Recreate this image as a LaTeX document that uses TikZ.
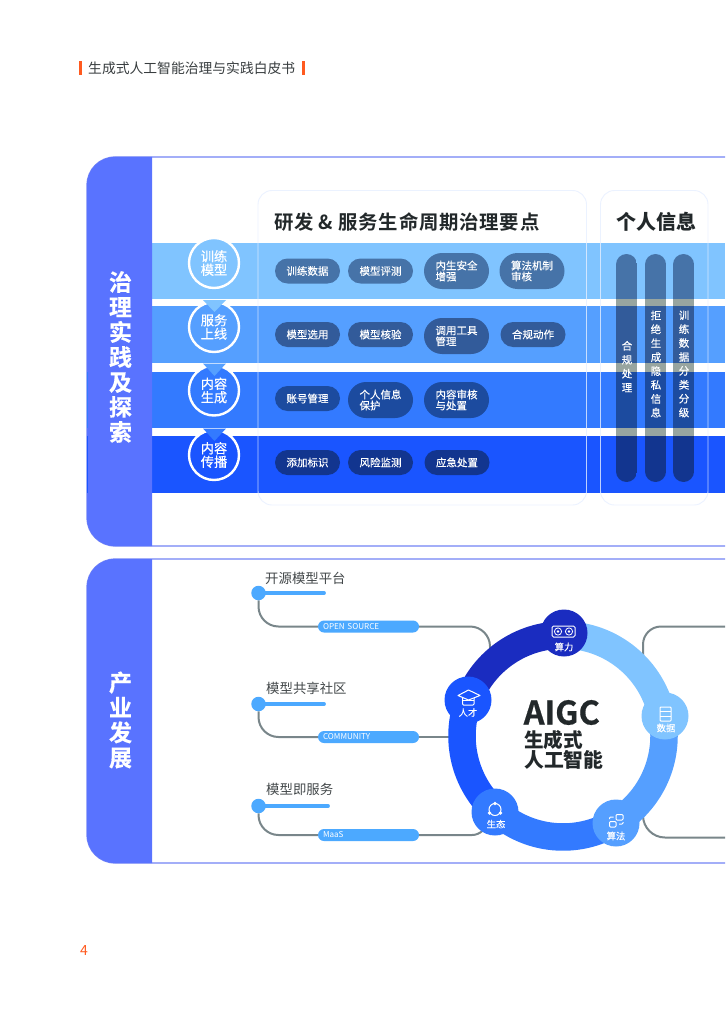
\documentclass[tikz,border=0pt]{standalone}
\usepackage{fontspec}
\usetikzlibrary{shapes.misc}
\setmainfont{Noto Sans CJK SC}
\newfontfamily\cjkm[FakeBold=0.3]{Noto Sans CJK SC}
\newfontfamily\cjks[FakeBold=0.55]{Noto Sans CJK SC}
\newfontfamily\cjkt[LetterSpace=4]{Noto Sans CJK SC Bold}
\newfontfamily\cjka[FakeBold=0.6]{Noto Sans CJK SC Bold}
\newcommand{\fs}[2]{\fontsize{#1}{#2}\selectfont}
\pgfdeclarelayer{toplayer}
\pgfsetlayers{main,toplayer}
\definecolor{bandA}{RGB}{128,196,255}
\definecolor{bandB}{RGB}{85,159,255}
\definecolor{bandC}{RGB}{51,122,255}
\definecolor{bandD}{RGB}{26,85,255}
\definecolor{ringdark}{RGB}{26,44,192}
\definecolor{sidebar}{RGB}{89,115,255}
\definecolor{frameblue}{RGB}{115,132,245}
\definecolor{pillA}{RGB}{70,115,168}
\definecolor{pillB}{RGB}{50,91,154}
\definecolor{pillC}{RGB}{28,75,159}
\definecolor{pillD}{RGB}{18,53,143}
\definecolor{pillgap}{RGB}{152,165,160}
\definecolor{connGrey}{RGB}{121,134,138}
\definecolor{accent}{RGB}{76,169,255}
\definecolor{headorange}{RGB}{255,90,31}
\definecolor{inkdark}{RGB}{34,40,42}
\tikzset{
  x=1pt,y=-1pt,
  pillbox/.style={rounded rectangle,inner sep=0pt,minimum width=65pt,minimum height=25pt,text=white,font=\cjkm\fs{10.5}{11},align=left},
  tallpill/.style={pillbox,minimum height=36pt},
  stagecircle/.style={circle,draw=white,line width=2.4pt,minimum size=50pt,inner sep=0pt,text=white,font=\cjks\fs{13.2}{13.5},align=center},
  glass/.style={draw=white!88!bandC,line width=0.9pt,rounded corners=14pt,opacity=0.8},
  frameline/.style={draw=frameblue,line width=1.2pt},
  sidetext/.style={text=white,font=\cjka\fs{23}{25},align=center},
  conn/.style={draw=connGrey,line width=2pt},
  tagpill/.style={rounded rectangle,fill=accent,inner sep=0pt,minimum width=101pt,minimum height=12pt,text width=91pt,text=white,font=\fs{8.1}{8.5},align=left},
  nodedot/.style={circle,fill=accent,minimum size=14.5pt,inner sep=0pt},
  toplabel/.style={anchor=west,text=inkdark!85,font=\fs{13.4}{14},inner sep=0pt},
  ringnode/.style={circle,minimum size=47pt,inner sep=0pt},
  ringlabel/.style={text=white,font=\cjkm\fs{9.3}{10},inner sep=0pt},
  iconline/.style={draw=white,line width=1pt},
  bartext/.style={text=white,font=\cjkm\fs{10.5}{13.9},align=center,inner sep=0pt}
}
\begin{document}
\begin{tikzpicture}
\useasboundingbox (0,0) rectangle (725,1024);
\fill[white] (0,0) rectangle (725,1024);
% header
\fill[headorange] (79,61) rectangle (82,75);
\fill[headorange] (301.5,61) rectangle (304.5,75);
\node[anchor=west,inner sep=0pt,text=inkdark!90,font=\fs{13.8}{14}] (header) at (88,68.5) {生成式人工智能治理与实践白皮书};
\node[anchor=west,inner sep=0pt,text=headorange,font=\fs{14}{14}] (pageno) at (80,950) {4};
% bands
\fill[bandA] (152,243) rectangle (725,299);
\fill[bandB] (152,306) rectangle (725,363);
\fill[bandC] (152,371.5) rectangle (725,428);
\fill[bandD] (152,436) rectangle (725,493);
% frames
\draw[frameline] (725,157) -- (115,157) arc (-90:-180:28) -- (87,518) arc (180:90:28) -- (725,546);
\draw[frameline] (725,559) -- (115,559) arc (-90:-180:28) -- (87,835) arc (180:90:28) -- (725,863);
\fill[sidebar] (152,157) -- (115,157) arc (-90:-180:28) -- (87,518) arc (180:90:28) -- (152,546) -- cycle;
\fill[sidebar] (152,559) -- (115,559) arc (-90:-180:28) -- (87,835) arc (180:90:28) -- (152,863) -- cycle;
\fill[bandD] (87,436) rectangle (88,493);
\fill[bandC] (87,371.5) rectangle (87.7,428);
\node[sidetext] (sideA) at (120.5,357) {治\\理\\实\\践\\及\\探\\索};
\node[sidetext] (sideB) at (120.5,720) {产\\业\\发\\展};
% glass panels
\draw[glass] (258,190.5) rectangle (586.5,505);
\draw[glass] (600.5,190.5) rectangle (708,505);
\node[anchor=west,inner sep=0pt,text=inkdark,font=\cjkt\fs{19.4}{20}] (titleA) at (274,222) {研发 \& 服务生命周期治理要点};
\node[anchor=west,inner sep=0pt,text=inkdark,font=\bfseries\fs{20}{20}] (titleB) at (616,222) {个人信息};
% stages
\node[stagecircle,fill=bandA] (s1) at (214,263) {训练\\模型};
\node[stagecircle,fill=bandB] (s2) at (214,327) {服务\\上线};
\node[stagecircle,fill=bandC] (s3) at (214,390.5) {内容\\生成};
\node[stagecircle,fill=bandD] (s4) at (214,455) {内容\\传播};
\fill[bandA] (203,300) -- (226,300) -- (214.5,312) -- cycle;
\fill[bandB] (203,363.5) -- (226,363.5) -- (214.5,376) -- cycle;
\fill[bandC] (203,428.5) -- (226,428.5) -- (214.5,441) -- cycle;
% pills row 1
\node[pillbox,fill=pillA] (p11) at (307.5,271) {训练数据};
\node[pillbox,fill=pillA] (p12) at (380.5,271) {模型评测};
\node[tallpill,fill=pillA] (p13) at (456.5,271) {内生安全\\增强};
\node[tallpill,fill=pillA] (p14) at (532,271) {算法机制\\审核};
% row 2
\node[pillbox,fill=pillB] (p21) at (307.5,334.5) {模型选用};
\node[pillbox,fill=pillB] (p22) at (380.5,334.5) {模型核验};
\node[tallpill,fill=pillB] (p23) at (456.5,336) {调用工具\\管理};
\node[pillbox,fill=pillB] (p24) at (533,334.5) {合规动作};
% row 3
\node[pillbox,fill=pillC] (p31) at (307.5,398.5) {账号管理};
\node[tallpill,fill=pillC] (p32) at (380.5,400) {个人信息\\保护};
\node[tallpill,fill=pillC] (p33) at (456.5,400) {内容审核\\与处置};
% row 4
\node[pillbox,fill=pillD] (p41) at (307.5,462.5) {添加标识};
\node[pillbox,fill=pillD] (p42) at (380.5,462.5) {风险监测};
\node[pillbox,fill=pillD] (p43) at (457,462.5) {应急处置};
% vertical bars
\foreach \bx in {616,645,673}{
  \begin{scope}
    \clip[rounded corners=10.5pt] (\bx,254) rectangle ++(21,228);
    \fill[pillA] (\bx,254) rectangle ++(21,45);
    \fill[pillgap] (\bx,299) rectangle ++(21,7);
    \fill[pillB] (\bx,306) rectangle ++(21,57);
    \fill[pillgap] (\bx,363) rectangle ++(21,8.5);
    \fill[pillC] (\bx,371.5) rectangle ++(21,56.5);
    \fill[pillgap] (\bx,428) rectangle ++(21,8);
    \fill[pillD] (\bx,436) rectangle ++(21,46);
  \end{scope}
}
\node[bartext] (b1) at (627,366.5) {合\\规\\处\\理};
\node[bartext] (b2) at (656,364) {拒\\绝\\生\\成\\隐\\私\\信\\息};
\node[bartext] (b3) at (684,364) {训\\练\\数\\据\\分\\类\\分\\级};
% lower left
\node[toplabel] (l1) at (265,578) {开源模型平台};
\node[toplabel] (l2) at (266,688.5) {模型共享社区};
\node[toplabel] (l3) at (266,789) {模型即服务};
\begin{pgfonlayer}{toplayer}
\node[nodedot] (d1) at (258.5,593) {};
\node[nodedot] (d2) at (258.5,704) {};
\node[nodedot] (d3) at (258.5,806) {};
\node[tagpill] (t1) at (368.5,626.5) {OPEN SOURCE};
\node[tagpill] (t2) at (368.5,737) {COMMUNITY};
\node[tagpill] (t3) at (368.5,835) {MaaS};
\end{pgfonlayer}
\coordinate (e1) at (324,593);
\coordinate (e2) at (324,704);
\coordinate (e3) at (328,806);
\coordinate (ra) at (490,650);
\coordinate (rb) at (455,737);
\coordinate (rc) at (487,822);
\coordinate (rd) at (725,626.5);
\coordinate (re) at (643,660);
\coordinate (rf) at (725,837.5);
\coordinate (rg) at (643,800);
\draw[accent,line width=3.8pt,line cap=round] (d1.center) -- (e1);
\draw[accent,line width=3.8pt,line cap=round] (d2.center) -- (e2);
\draw[accent,line width=3.8pt,line cap=round] (d3.center) -- (e3);
\draw[conn,rounded corners=20pt] (d1.south) |- (t1.west);
\draw[conn,rounded corners=20pt] (d2.south) |- (t2.west);
\draw[conn,rounded corners=20pt] (d3.south) |- (t3.west);
\draw[conn,rounded corners=20pt] (t1.east) -| (ra);
\draw[conn] (t2.east) -- (rb);
\draw[conn,rounded corners=15pt] (t3.east) -| (rc);
\draw[conn,rounded corners=18pt] (rd) -| (re);
\draw[conn,rounded corners=22pt] (rf) -| (rg);
% ring
\coordinate (ringc) at (563,736);
\draw[bandA,line width=27.5pt] (ringc) ++(-90:101) arc (-90:-11:101);
\draw[bandB,line width=27.5pt] (ringc) ++(-11:101) arc (-11:59:101);
\draw[bandC,line width=27.5pt] (ringc) ++(59:101) arc (59:132:101);
\draw[bandD,line width=27.5pt] (ringc) ++(132:101) arc (132:201:101);
\draw[ringdark,line width=27.5pt] (ringc) ++(201:101) arc (201:270:101);
\node[ringnode,fill=ringdark] (n1) at (564,633) {};
\node[ringnode,fill=bandA] (n2) at (665,716) {};
\node[ringnode,fill=bandB] (n3) at (616,823) {};
\node[ringnode,fill=bandC] (n4) at (495,812) {};
\node[ringnode,fill=bandD] (n5) at (468,700) {};
\node[ringlabel] (n1t) at (564,647) {算力};
\node[ringlabel] (n2t) at (666,728) {数据};
\node[ringlabel] (n3t) at (616,836) {算法};
\node[ringlabel] (n4t) at (496,824) {生态};
\node[ringlabel] (n5t) at (468,712.5) {人才};
% icons
\draw[iconline,rounded corners=1.5pt] (552,626) rectangle (575,637);
\draw[iconline,line width=.8pt] (558,631.5) circle[radius=3.6];
\draw[iconline,line width=.8pt] (569,631.5) circle[radius=3.6];
\fill[white] (558,631.5) circle[radius=1.4];
\fill[white] (569,631.5) circle[radius=1.4];
\draw[iconline,rounded corners=.8pt] (660,707) rectangle (671,721);
\draw[iconline,line width=.8pt] (660,711.5) -- (671,711.5) (660,716) -- (671,716);
\draw[iconline,rounded corners=1pt] (616,814.5) rectangle (623,820);
\draw[iconline,rounded corners=1pt] (609.5,821.5) rectangle (616,827);
\draw[iconline,rounded corners=1pt] (613.5,817) -- (609.5,817) -- (609.5,819);
\draw[iconline,rounded corners=1pt] (619,824) -- (623,824) -- (623,822);
\draw[iconline] (495,809.5) circle[radius=6];
\fill[white] (495,803.5) circle[radius=1.9];
\fill[white] (489.5,813) circle[radius=1.9];
\fill[white] (500.5,813) circle[radius=1.9];
\draw[iconline,fill=bandD,rounded corners=1pt] (462.5,696) rectangle (474,705);
\draw[iconline] (463,700.5) -- (474,700.5);
\draw[iconline,fill=bandD,line join=round] (458,695.5) -- (468.5,690) -- (480,695.5) -- (468.5,700) -- cycle;
% centre text
\node[anchor=west,inner sep=0pt,text=inkdark,font=\cjka\fs{32.5}{33}] (aigc) at (523.5,712.5) {AIGC};
\node[anchor=west,inner sep=0pt,text=inkdark,font=\bfseries\fs{19.6}{20}] (cn1) at (524,740) {生成式};
\node[anchor=west,inner sep=0pt,text=inkdark,font=\bfseries\fs{19.8}{20}] (cn2) at (524,760) {人工智能};
\end{tikzpicture}
\end{document}
